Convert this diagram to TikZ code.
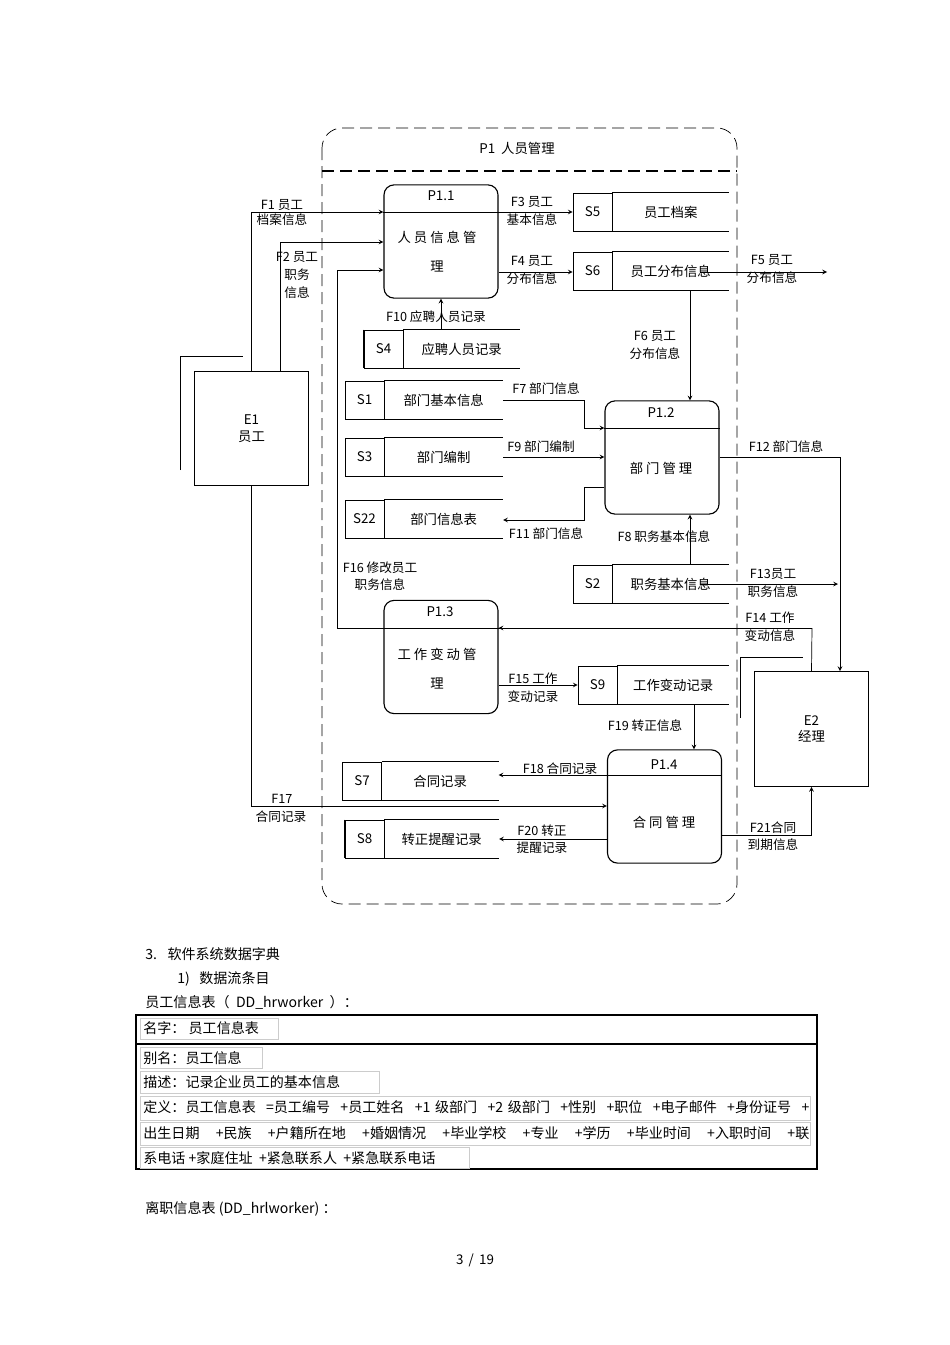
\documentclass[tikz,border=0pt]{standalone}
\usepackage{fontspec}
\setmainfont{Noto Sans CJK SC}
\usetikzlibrary{arrows, positioning}
\tikzstyle{proc} = [rectangle, rounded corners=2.5mm, draw=black, thick, minimum width=28.5mm, minimum height=28.3mm]
\tikzstyle{ent} = [rectangle, draw=black, thick, minimum width=28.7mm, minimum height=28.7mm, align=center]
\tikzstyle{sid} = [rectangle, draw=black, minimum width=9.75mm, minimum height=9.5mm]
\tikzstyle{sname} = [rectangle, minimum height=9.5mm, inner sep=0pt]
\tikzstyle{lbl} = [align=left, inner sep=1pt, font=\fontsize{9}{12.5}\selectfont]
\tikzstyle{arrow} = [->, >=stealth]
\tikzstyle{txt} = [anchor=west, inner sep=0pt, font=\fontsize{10}{12}\selectfont]
\tikzstyle{row} = [txt, text width=166.5mm, align=left]

\begin{document}
\begin{tikzpicture}[x=0.25mm, y=-0.25mm, font=\fontsize{9.5}{12}\selectfont, line width=0.5pt]
\useasboundingbox (0,0) rectangle (950,1345);

% P1 frame
\draw[dash pattern=on 3mm off 1.5mm, rounded corners=5mm] (322,128) rectangle (737,904);
\draw[dash pattern=on 3mm off 1.5mm, thick] (322,171) -- (737,171);
\node (p1) at (517,148) {P1 \ 人员管理};

% processes
\node (p11) [proc] at (441,241.5) {};
\draw (p11.west |- 0,212) -- (p11.east |- 0,212);
\node at (441,196) {P1.1};
\node [align=center] at (437,252) {人 员 信 息 管\\[3mm]理};

\node (p12) [proc] at (662,457.5) {};
\draw (p12.west |- 0,428) -- (p12.east |- 0,428);
\node at (661,413) {P1.2};
\node at (661,468) {部 门 管 理};

\node (p13) [proc] at (441,657) {};
\draw (p13.west |- 0,628) -- (p13.east |- 0,628);
\node at (440,612) {P1.3};
\node [align=center] at (437,669) {工 作 变 动 管\\[3mm]理};

\node (p14) [proc] at (664.5,806.5) {};
\draw (p14.west |- 0,775) -- (p14.east |- 0,775);
\node at (664,765) {P1.4};
\node at (664,822) {合 同 管 理};

% entities
\draw (180,470) -- (180,356) -- (243,356);
\node (e1) [ent] at (251.5,428.5) {E1\\员工};
\draw (740,718) -- (740,657) -- (803,657);
\node (e2) [ent] at (811.5,729) {E2\\经理};

% stores
\node (s5id) [sid] at (592.5,212) {S5};
\node (s5) [sname, right=0pt of s5id, minimum width=29mm] {员工档案};
\node (s6id) [sid] at (592.5,271) {S6};
\node (s6) [sname, right=0pt of s6id, minimum width=29mm] {员工分布信息};
\node (s4id) [sid] at (383.5,349) {S4};
\node (s4) [sname, right=0pt of s4id, minimum width=29mm] {应聘人员记录};
\node (s1id) [sid] at (364.5,400) {S1};
\node (s1) [sname, right=0pt of s1id, minimum width=29.5mm] {部门基本信息};
\node (s3id) [sid] at (364.5,457) {S3};
\node (s3) [sname, right=0pt of s3id, minimum width=29.5mm] {部门编制};
\node (s22id) [sid] at (364.5,519) {S22};
\node (s22) [sname, right=0pt of s22id, minimum width=29.5mm] {部门信息表};
\node (s2id) [sid] at (592.5,584) {S2};
\node (s2) [sname, right=0pt of s2id, minimum width=29mm] {职务基本信息};
\node (s9id) [sid] at (597.5,685) {S9};
\node (s9) [sname, right=0pt of s9id, minimum width=27.75mm] {工作变动记录};
\node (s7id) [sid] at (362,781) {S7};
\node (s7) [sname, right=0pt of s7id, minimum width=29mm] {合同记录};
\node (s8id) [sid] at (364.5,839) {S8};
\node (s8) [sname, right=0pt of s8id, minimum width=28.5mm] {转正提醒记录};
\foreach \s in {s5,s6,s4,s1,s3,s22,s2,s9,s7,s8}
  \draw (\s.north west) -- (\s.north east) (\s.south west) -- (\s.south east);
\draw [thick] (s4id.north west) -- (s4id.south west);
\draw [thick] (s8id.north west) -- (s8id.south west);

% flows
\draw [arrow] (e1.north) |- (p11.west |- 0,212);
\node [lbl, anchor=south] at (282,212) {F1 员工};
\node [lbl, anchor=north] at (282,212) {档案信息};
\draw [arrow] (e1.north -| 280,0) |- (p11.west |- 0,242);
\node [lbl, align=center] at (297,275) {F2 员工\\职务\\信息};
\draw [arrow] (812,628) -| (337,270) -- (p11.west |- 0,270);
\draw (e2.north) -- (812,628);
\draw [arrow] (812,628) -- (p13.east |- 0,628);
\node [lbl, align=center] at (380,576) {F16 修改员工\\职务信息};
\node [lbl, align=center] at (770,627) {F14 工作\\变动信息};
\draw [arrow] (p11.east |- 0,212) -- (s5id.west);
\node [lbl, align=center] at (532,211) {F3 员工\\基本信息};
\draw [arrow] (p11.east |- 0,272) -- (s6id.west |- 0,272);
\node [lbl, align=center] at (532,270) {F4 员工\\分布信息};
\draw [arrow] (700,272) -- (827,272);
\node [lbl, align=center] at (772,269) {F5 员工\\分布信息};
\draw [arrow] (s6.south -| 690,0) -- (p12.north -| 690,0);
\node [lbl, align=center] at (655,345) {F6 员工\\分布信息};
\draw [arrow] (s4.north -| 441,0) -- (p11.south);
\node [lbl] at (436,317) {F10 应聘人员记录};
\draw [arrow] (s1.east) -| (584,428) -- (p12.west |- 0,428);
\node [lbl] at (546,389) {F7 部门信息};
\draw [arrow] (s3.east) -- (p12.west |- 0,457);
\node [lbl] at (541,447) {F9 部门编制};
\draw [arrow] (p12.west |- 0,487) -| (584,520) -- (s22.east |- 0,520);
\node [lbl] at (546,534) {F11 部门信息};
\draw [arrow] (s2.north -| 690,0) -- (p12.south -| 690,0);
\node [lbl] at (664,537) {F8 职务基本信息};
\draw [arrow] (700,584) -- (838,584);
\node [lbl, align=center] at (773,583) {F13员工\\职务信息};
\draw [arrow] (p12.east |- 0,457) -| (e2.north -| 840,0);
\node [lbl] at (786,447) {F12 部门信息};
\draw [arrow] (p13.east |- 0,685) -- (s9id.west);
\node [lbl, align=center] at (533,688) {F15 工作\\变动记录};
\draw [arrow] (s9.south -| 694,0) -- (p14.north -| 694,0);
\node [lbl] at (645,726) {F19 转正信息};
\draw [arrow] (p14.west |- 0,775) -- (s7.east |- 0,775);
\node [lbl] at (560,769) {F18 合同记录};
\draw [arrow] (e1.south) |- (p14.west |- 0,806);
\node [lbl, anchor=south] at (282,805) {F17};
\node [lbl, anchor=north] at (281,809) {合同记录};
\draw [arrow] (p14.west |- 0,839) -- (s8.east |- 0,839);
\node [lbl, align=center] at (542,839) {F20 转正\\提醒记录};
\draw [arrow] (p14.east |- 0,835) -| (e2.south);
\node [lbl, align=center] at (773,836) {F21合同\\到期信息};

% data dictionary text
\node (t1) [txt] at (145,954) {3. \ \ 软件系统数据字典};
\node (t2) [txt] at (177,979) {1) \ \ 数据流条目};
\node (t3) [txt] at (145,1002) {员工信息表（ \ DD\_hrworker \ ）：};
\draw [thick] (136,1015) rectangle (817,1169);
\draw [thick] (136,1044) -- (817,1044);
\begin{scope}[draw=black!20]
\draw (140,1018) rectangle (278,1039);
\draw (140,1047) rectangle (262,1068);
\draw (140,1071) rectangle (379,1093);
\draw (140,1096) rectangle (810,1120);
\draw (140,1122) rectangle (810,1145);
\draw (140,1147) rectangle (469,1168);
\end{scope}
\node (r1) [txt] at (143,1028) {名字： 员工信息表};
\node (r2) [txt] at (143,1058) {别名：员工信息};
\node (r3) [txt] at (143,1082) {描述：记录企业员工的基本信息};
\node (r4) [row] at (143,1107) {\parfillskip=0pt 定义：员工信息表\hfill =员工编号\hfill +员工姓名\hfill +1 级部门\hfill +2 级部门\hfill +性别\hfill +职位\hfill +电子邮件\hfill +身份证号\hfill +};
\node (r5) [row] at (143,1133) {\parfillskip=0pt 出生日期\hfill +民族\hfill +户籍所在地\hfill +婚姻情况\hfill +毕业学校\hfill +专业\hfill +学历\hfill +毕业时间\hfill +入职时间\hfill +联};
\node (r6) [txt] at (143,1158) {系电话 +家庭住址 \ +紧急联系人 \ +紧急联系电话};
\node (t4) [txt] at (145,1209) {离职信息表 (DD\_hrlworker) ：};
\node (pg) at (475,1260) {3 \,/\, 19};
\end{tikzpicture}
\end{document}
